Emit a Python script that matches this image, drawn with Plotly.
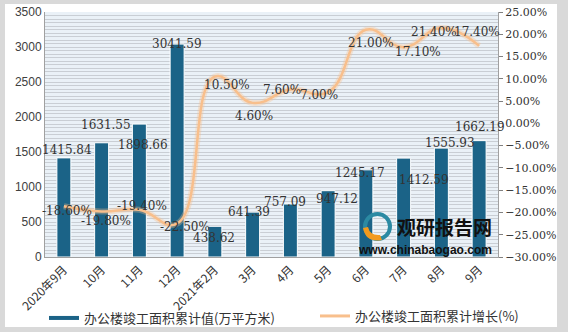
import plotly.graph_objects as go

categories = ["2020年9月", "10月", "11月", "12月", "2021年2月", "3月", "4月", "5月", "6月", "7月", "8月", "9月"]
area_values = [1415.84, 1631.55, 1898.66, 3041.59, 438.62, 641.39, 757.09, 947.12, 1245.17, 1412.59, 1555.93, 1662.19]
growth_values = [-18.6, -19.8, -19.4, -22.5, 10.5, 4.6, 7.6, 7.0, 21.0, 17.1, 21.4, 17.4]
bar_name = "办公楼竣工面积累计值(万平方米)"
line_name = "办公楼竣工面积累计增长(%)"

# label offsets (pixels)
bar_lbl_dx = [3, 4, 4, 0, -1, -4, -5, 9, -6, 20, 9, 1]
bar_lbl_dy = [8, 18, -21, 0, -12, 0, 2, -8, -3, -22, 5, 14]
line_lbl_dx = [3, 4, 3, 8, 12, 1, -8, -9, 5, 14, -7, -2]
line_lbl_dy = [-5, -9, 4, -3, -8, -13, 0, -3, -13, -5, -4, 14]

BAR_COLOR = "#1b6387"
LINE_COLOR = "#f8bf8c"

fig = go.Figure()
fig.add_trace(go.Bar(x=categories, y=area_values, name=bar_name, width=0.37,
                     marker=dict(color=BAR_COLOR, line=dict(color="white", width=1)),
                     showlegend=False, yaxis="y"))
fig.add_trace(go.Scatter(x=categories, y=growth_values, name=line_name, mode="lines",
                         line=dict(color="rgba(248,191,140,0.35)", width=6, shape="spline", smoothing=1.3),
                         showlegend=False, yaxis="y2", hoverinfo="skip"))
fig.add_trace(go.Scatter(x=categories, y=growth_values, name=line_name, mode="lines",
                         line=dict(color=LINE_COLOR, width=2.5, shape="spline", smoothing=1.3),
                         showlegend=False, yaxis="y2"))
# legend proxies
fig.add_trace(go.Scatter(x=[None], y=[None], name=bar_name, mode="lines",
                         line=dict(color=BAR_COLOR, width=4), yaxis="y", legend="legend"))
fig.add_trace(go.Scatter(x=[None], y=[None], name=line_name, mode="lines",
                         line=dict(color=LINE_COLOR, width=3), yaxis="y2", legend="legend2"))

label_font = dict(family="DejaVu Serif", size=12, color="#333333")
for i, (c, v) in enumerate(zip(categories, area_values)):
    fig.add_annotation(x=c, y=v, xref="x", yref="y", text=f"{v:.2f}", showarrow=False,
                       xshift=bar_lbl_dx[i], yshift=bar_lbl_dy[i], font=label_font)
for i, (c, v) in enumerate(zip(categories, growth_values)):
    fig.add_annotation(x=c, y=v, xref="x", yref="y2", text=f"{v:.2f}%", showarrow=False,
                       xshift=line_lbl_dx[i], yshift=line_lbl_dy[i], font=label_font)

L, R, T, B = 45, 70, 12, 75
W, H = 568, 332
pw, ph = W - L - R, H - T - B
def px(x):
    return (x - L) / pw
def py(y):
    return (H - B - y) / ph

# watermark
fig.add_annotation(x=px(444), y=py(226), xref="paper", yref="paper", xanchor="center", yanchor="middle",
                   text="<b>观研报告网</b>", showarrow=False,
                   font=dict(family="Noto Sans CJK SC", size=19, color="#111111"))
fig.add_annotation(x=px(425), y=py(250), xref="paper", yref="paper", xanchor="center", yanchor="middle",
                   text="<b>www.chinabaogao.com</b>", showarrow=False,
                   font=dict(family="Liberation Sans", size=12, color="#111111"))
# logo
fig.add_shape(type="circle", xref="paper", yref="paper", x0=px(365), x1=px(390), y0=py(239), y1=py(214),
              line=dict(color="#2b8aa3", width=4))
fig.add_shape(type="path", xref="paper", yref="paper",
              path=f"M {px(363)},{py(228)} Q {px(366)},{py(243)} {px(382)},{py(240)} L {px(380)},{py(235)} Q {px(370)},{py(236)} {px(368)},{py(227)} Z",
              fillcolor="#f29a1e", line=dict(width=0))

fig.add_shape(type="rect", xref="paper", yref="paper", x0=px(5), x1=px(557), y0=py(327), y1=py(4),
              fillcolor="white", line=dict(width=0), layer="below")
fig.add_shape(type="rect", xref="paper", yref="paper", x0=0, x1=1, y0=0, y1=1,
              fillcolor="#eaf1f7", line=dict(width=0), layer="below")

legend_font = dict(family="Noto Sans CJK SC", size=13, color="#333333")
fig.update_layout(
    width=W, height=H, margin=dict(l=L, r=R, t=T, b=B, autoexpand=False),
    paper_bgcolor="#d9d9d9", plot_bgcolor="rgba(0,0,0,0)",
    xaxis=dict(type="category", tickangle=-45, showgrid=False, showline=True, linecolor="#a0a0a0",
               ticks="", tickfont=dict(family="Noto Sans CJK SC", size=12, color="#333333"),
               range=[-0.5, 11.5], automargin=False),
    yaxis=dict(range=[0, 3500], dtick=500, showgrid=True, gridcolor="#c9ced4", gridwidth=1,
               minor=dict(dtick=50, showgrid=True, gridcolor="#c9ced4", gridwidth=1),
               showline=True, linecolor="#a0a0a0", ticks="", zeroline=False, automargin=False,
               tickfont=dict(family="Liberation Sans", size=12, color="#404040")),
    yaxis2=dict(range=[-30, 25], dtick=5, overlaying="y", side="right", showgrid=False,
                tickformat=".2f", ticksuffix="%", ticks="outside", ticklen=4, tickcolor="#808080",
                showline=True, linecolor="#a0a0a0", zeroline=False, automargin=False,
                tickfont=dict(family="DejaVu Serif", size=11, color="#333333")),
    legend=dict(orientation="h", x=px(44), y=py(318), xanchor="left", yanchor="middle",
                bgcolor="rgba(0,0,0,0)", font=legend_font),
    legend2=dict(orientation="h", x=px(315), y=py(316), xanchor="left", yanchor="middle",
                 bgcolor="rgba(0,0,0,0)", font=legend_font),
)

fig.write_html("out.html")
